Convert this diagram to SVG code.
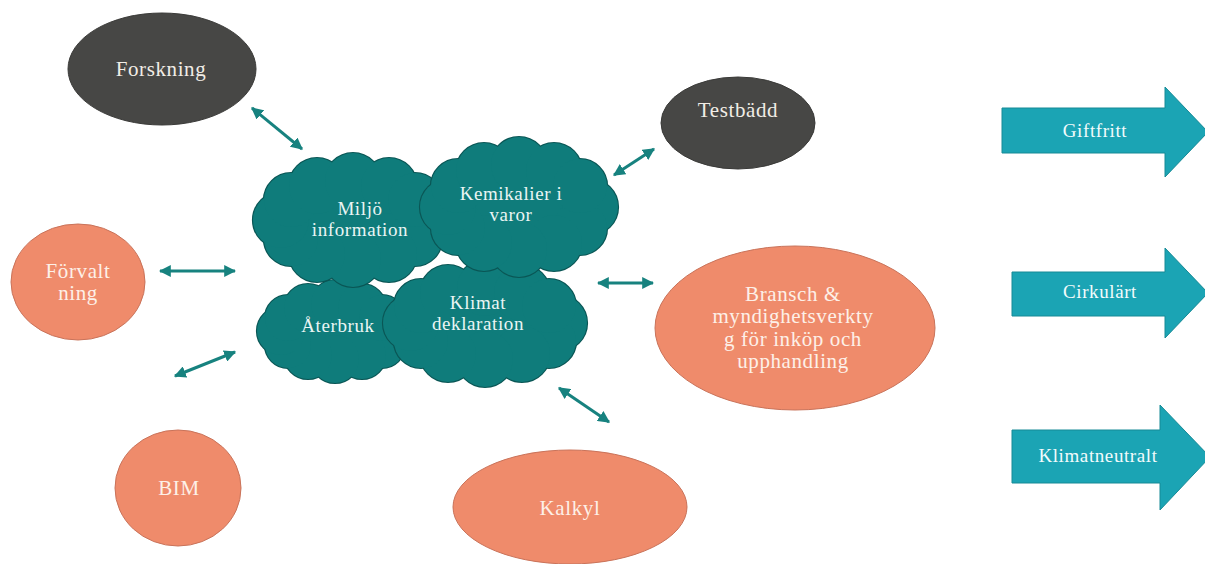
<svg xmlns="http://www.w3.org/2000/svg" xmlns:xlink="http://www.w3.org/1999/xlink" width="1205" height="564" viewBox="0 0 1205 564">
  <style>
    text { font-family: "Liberation Serif", "Times New Roman", serif; text-anchor: middle; letter-spacing: 0.6px; }
    .dark { fill: #474745; stroke: #3a3a38; stroke-width: 1; }
    .orange { fill: #ef8b6b; stroke: #c9735a; stroke-width: 1; }
    .on-dark { fill: #f1ede6; font-size: 21px; }
    .on-orange { fill: #fdf0e8; font-size: 21px; }
    .on-cloud { fill: #eaf5f4; font-size: 19px; }
    .on-arrow { fill: #f2fbfc; font-size: 19px; }
    .cloud-edge { fill: #0e7a79; stroke: #0a5655; stroke-width: 2.2; }
    .cloud-body { fill: #0f7c7b; stroke: none; }
    .block { fill: #1ba4b4; stroke: #178a96; stroke-width: 1; }
    .link { stroke: #17827f; stroke-width: 3; fill: none; marker-start: url(#tip); marker-end: url(#tip); }
  </style>
  <defs>
    <marker id="tip" viewBox="0 0 10 10" refX="9" refY="5" markerWidth="12" markerHeight="12" markerUnits="userSpaceOnUse" orient="auto-start-reverse">
      <path d="M0,0 L10,5 L0,10 Z" fill="#17827f"/>
    </marker>
    <!-- cloud shapes built from overlapping circles -->
    <g id="cloud-miljo">
      <ellipse cx="353" cy="220" rx="82" ry="50"/>
      <circle cx="425" cy="220" r="28"/><circle cx="415" cy="239" r="27"/><circle cx="389" cy="254" r="28"/>
      <circle cx="353" cy="259" r="28"/><circle cx="317" cy="254" r="28"/><circle cx="291" cy="239" r="27"/>
      <circle cx="281" cy="220" r="28"/><circle cx="291" cy="200" r="27"/><circle cx="317" cy="186" r="28"/>
      <circle cx="353" cy="181" r="28"/><circle cx="389" cy="186" r="28"/><circle cx="415" cy="200" r="27"/>
    </g>
    <g id="cloud-kemikalier">
      <ellipse cx="519" cy="207" rx="80" ry="52"/>
      <circle cx="590" cy="207" r="28"/><circle cx="580" cy="228" r="27"/><circle cx="554" cy="243" r="28"/>
      <circle cx="519" cy="249" r="28"/><circle cx="484" cy="243" r="28"/><circle cx="458" cy="228" r="27"/>
      <circle cx="448" cy="207" r="28"/><circle cx="458" cy="186" r="27"/><circle cx="484" cy="171" r="28"/>
      <circle cx="519" cy="165" r="28"/><circle cx="554" cy="171" r="28"/><circle cx="580" cy="186" r="27"/>
    </g>
    <g id="cloud-aterbruk">
      <ellipse cx="335" cy="331" rx="62" ry="36"/>
      <circle cx="389" cy="331" r="24"/><circle cx="382" cy="345" r="23"/><circle cx="362" cy="355" r="24"/>
      <circle cx="335" cy="359" r="24"/><circle cx="308" cy="355" r="24"/><circle cx="288" cy="345" r="23"/>
      <circle cx="281" cy="331" r="24"/><circle cx="288" cy="318" r="23"/><circle cx="308" cy="308" r="24"/>
      <circle cx="335" cy="304" r="24"/><circle cx="362" cy="308" r="24"/><circle cx="382" cy="318" r="23"/>
    </g>
    <g id="cloud-klimat">
      <ellipse cx="485" cy="323" rx="84" ry="46"/>
      <circle cx="559" cy="323" r="28"/><circle cx="549" cy="341" r="27"/><circle cx="522" cy="354" r="28"/>
      <circle cx="485" cy="359" r="28"/><circle cx="448" cy="354" r="28"/><circle cx="421" cy="341" r="27"/>
      <circle cx="411" cy="323" r="28"/><circle cx="421" cy="306" r="27"/><circle cx="448" cy="293" r="28"/>
      <circle cx="485" cy="288" r="28"/><circle cx="522" cy="293" r="28"/><circle cx="549" cy="306" r="27"/>
    </g>
  </defs>

  <rect width="1205" height="564" fill="#ffffff"/>

  <!-- central clouds -->
  <g id="aterbruk">
    <use xlink:href="#cloud-aterbruk" class="cloud-edge"/>
    <use xlink:href="#cloud-aterbruk" class="cloud-body"/>
    <text class="on-cloud" x="338" y="332">Återbruk</text>
  </g>
  <g id="klimatdeklaration">
    <use xlink:href="#cloud-klimat" class="cloud-edge"/>
    <use xlink:href="#cloud-klimat" class="cloud-body"/>
    <text class="on-cloud" x="478" y="309">Klimat</text>
    <text class="on-cloud" x="478" y="330">deklaration</text>
  </g>
  <g id="miljoinformation">
    <use xlink:href="#cloud-miljo" class="cloud-edge"/>
    <use xlink:href="#cloud-miljo" class="cloud-body"/>
    <text class="on-cloud" x="360" y="215">Miljö</text>
    <text class="on-cloud" x="360" y="236">information</text>
  </g>
  <g id="kemikalier">
    <use xlink:href="#cloud-kemikalier" class="cloud-edge"/>
    <use xlink:href="#cloud-kemikalier" class="cloud-body"/>
    <text class="on-cloud" x="511" y="200">Kemikalier i</text>
    <text class="on-cloud" x="511" y="221">varor</text>
  </g>

  <!-- surrounding nodes -->
  <g id="forskning">
    <ellipse class="dark" cx="162" cy="69" rx="94" ry="56"/>
    <text class="on-dark" x="161" y="76">Forskning</text>
  </g>
  <g id="testbadd">
    <ellipse class="dark" cx="738" cy="123" rx="77" ry="46"/>
    <text class="on-dark" x="738" y="117">Testbädd</text>
  </g>
  <g id="forvaltning">
    <ellipse class="orange" cx="78" cy="282" rx="67" ry="58"/>
    <text class="on-orange" x="78" y="278">Förvalt</text>
    <text class="on-orange" x="78" y="300">ning</text>
  </g>
  <g id="bransch">
    <ellipse class="orange" cx="795" cy="328" rx="140" ry="82"/>
    <text class="on-orange" x="793" y="301">Bransch &amp;</text>
    <text class="on-orange" x="793" y="323">myndighetsverkty</text>
    <text class="on-orange" x="793" y="346">g för inköp och</text>
    <text class="on-orange" x="793" y="368">upphandling</text>
  </g>
  <g id="bim">
    <ellipse class="orange" cx="178" cy="488" rx="63" ry="58"/>
    <text class="on-orange" x="179" y="495">BIM</text>
  </g>
  <g id="kalkyl">
    <ellipse class="orange" cx="570" cy="507" rx="117" ry="57"/>
    <text class="on-orange" x="570" y="515">Kalkyl</text>
  </g>

  <!-- goal arrows -->
  <g id="giftfritt">
    <path class="block" d="M1002,108 H1165 V87 L1208,132 L1165,177 V153 H1002 Z"/>
    <text class="on-arrow" x="1095" y="137">Giftfritt</text>
  </g>
  <g id="cirkulart">
    <path class="block" d="M1012,272 H1165 V248 L1208,293 L1165,338 V316 H1012 Z"/>
    <text class="on-arrow" x="1100" y="298">Cirkulärt</text>
  </g>
  <g id="klimatneutralt">
    <path class="block" d="M1012,430 H1160 V405 L1210,457 L1160,510 V483 H1012 Z"/>
    <text class="on-arrow" x="1098" y="462">Klimatneutralt</text>
  </g>

  <!-- connectors -->
  <g id="connectors">
    <line class="link" x1="252" y1="108" x2="302" y2="149"/>
    <line class="link" x1="160" y1="271" x2="235" y2="271"/>
    <line class="link" x1="175" y1="376" x2="235" y2="352"/>
    <line class="link" x1="614" y1="175" x2="654" y2="149"/>
    <line class="link" x1="598" y1="283" x2="653" y2="283"/>
    <line class="link" x1="559" y1="388" x2="609" y2="422"/>
  </g>
</svg>
